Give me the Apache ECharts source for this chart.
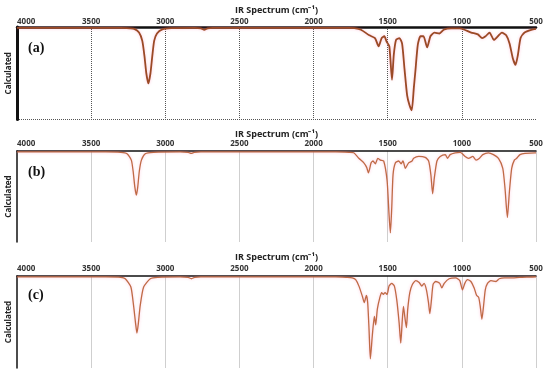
<!DOCTYPE html>
<html><head><meta charset="utf-8">
<script src="https://cdn.jsdelivr.net/npm/echarts/dist/echarts.min.js"></script>
<style>html,body{margin:0;padding:0;background:#fff}#c{width:550px;height:375px}</style>
</head><body><div id="c"></div>
<script>
// Panel (a): wavenumber (cm-1) and relative calculated intensity (0 = baseline, 1 = full depth)
const waveA = [4000,3500,3300,3240,3210,3177,3155,3140,3128,3114,3100,3088,3075,3056,3020,2960,2800,2760,2737,2715,2680,2000,1760,1725,1680,1624,1586,1561,1541,1523,1507,1489,1471,1459,1444,1421,1403,1387,1369,1354,1338,1324,1313,1297,1279,1259,1234,1212,1185,1151,1122,1072,1016,982,937,892,863,840,813,784,757,730,701,678,656,638,622,604,577,532,500];
const absA  = [0.01,0.01,0.01,0.015,0.02,0.06,0.15,0.32,0.50,0.61,0.50,0.32,0.15,0.07,0.025,0.012,0.01,0.015,0.03,0.015,0.01,0.01,0.01,0.012,0.03,0.09,0.12,0.21,0.12,0.10,0.16,0.21,0.57,0.30,0.14,0.12,0.18,0.45,0.74,0.84,0.90,0.66,0.47,0.19,0.10,0.10,0.22,0.10,0.06,0.07,0.03,0.015,0.015,0.03,0.06,0.08,0.12,0.10,0.06,0.14,0.10,0.06,0.09,0.18,0.34,0.41,0.30,0.12,0.06,0.03,0.02];
// Panel (b)
const waveB = [4000,3400,3300,3258,3229,3217,3205,3195,3186,3175,3161,3135,3080,2900,2845,2825,2805,2760,1850,1760,1729,1695,1661,1642,1630,1612,1599,1583,1567,1549,1527,1504,1491,1482,1473,1464,1448,1426,1410,1397,1381,1359,1336,1325,1291,1247,1224,1209,1197,1186,1168,1146,1112,1096,1079,1045,1011,978,955,926,904,881,859,821,787,753,724,709,693,679,664,646,630,608,574,507,500];
const absB  = [0.01,0.01,0.015,0.03,0.10,0.22,0.40,0.485,0.40,0.22,0.10,0.03,0.015,0.01,0.015,0.025,0.015,0.01,0.01,0.015,0.02,0.08,0.13,0.18,0.24,0.13,0.11,0.14,0.08,0.10,0.11,0.33,0.70,0.90,0.63,0.26,0.13,0.11,0.14,0.11,0.19,0.13,0.11,0.08,0.06,0.07,0.11,0.26,0.47,0.30,0.11,0.06,0.04,0.08,0.04,0.02,0.015,0.06,0.08,0.06,0.10,0.08,0.04,0.02,0.04,0.08,0.19,0.41,0.73,0.44,0.19,0.10,0.08,0.04,0.025,0.02,0.02];
// Panel (c)
const waveC = [4000,3400,3300,3270,3232,3214,3200,3191,3182,3169,3146,3101,3050,2900,2845,2824,2803,2760,1850,1780,1739,1716,1694,1671,1658,1644,1635,1626,1617,1604,1590,1581,1570,1554,1541,1529,1518,1504,1491,1473,1455,1439,1423,1412,1403,1394,1385,1374,1365,1351,1333,1311,1288,1270,1255,1239,1225,1216,1205,1194,1176,1149,1135,1119,1086,1041,1014,996,980,962,939,917,901,887,876,865,854,842,827,804,770,748,714,658,613,545,500];
const absC  = [0.01,0.01,0.015,0.03,0.12,0.32,0.52,0.62,0.52,0.32,0.12,0.03,0.015,0.01,0.015,0.03,0.015,0.01,0.01,0.015,0.02,0.04,0.11,0.22,0.29,0.21,0.29,0.58,0.90,0.65,0.44,0.53,0.36,0.24,0.18,0.20,0.18,0.20,0.11,0.08,0.11,0.26,0.51,0.73,0.51,0.33,0.44,0.56,0.36,0.18,0.09,0.05,0.07,0.11,0.08,0.15,0.29,0.41,0.26,0.09,0.06,0.08,0.13,0.08,0.03,0.02,0.05,0.15,0.08,0.04,0.06,0.13,0.21,0.23,0.33,0.47,0.33,0.15,0.08,0.05,0.06,0.03,0.02,0.02,0.015,0.012,0.01];
const panelLabels = ['(a)','(b)','(c)'];
const xTitle = 'IR Spectrum (cm\u207B\u00B9)';
const yTitle = 'Calculated';

const waves = [waveA, waveB, waveC];
const abss = [absA, absB, absC];
const gridTops = [27, 151, 276];
const gridHeights = [92.5, 91, 92];
const nameGaps = [12.5, 11, 14];
const labelMargins = [1.5, 3, 3];
const labelTops = [41, 165, 288];

const chart = echarts.init(document.getElementById('c'), null, {renderer: 'canvas'});
const grids = [], xAxes = [], yAxes = [], series = [], graphics = [];
for (let i = 0; i < 3; i++) {
  grids.push({left: 17, right: 14, top: gridTops[i], height: gridHeights[i], containLabel: false, outerBoundsMode: 'none'});
  const dotted = i === 0;
  xAxes.push({
    gridIndex: i, type: 'value', min: 500, max: 4000, interval: 500, inverse: true, position: 'top',
    name: xTitle, nameLocation: 'middle', nameGap: nameGaps[i],
    nameTextStyle: {fontWeight: 'bold', fontSize: 9, color: '#222', fontFamily: 'Open Sans'},
    axisLine: {show: true, lineStyle: {color: '#111', width: dotted ? 2.5 : 1.5}},
    axisTick: {show: false},
    axisLabel: {fontSize: 8, fontWeight: 'bold', color: '#333', margin: labelMargins[i], fontFamily: 'Open Sans',
      alignMaxLabel: 'left', formatter: v => String(v)},
    splitLine: {show: true, showMinLine: !dotted, showMaxLine: false,
      lineStyle: dotted ? {type: 'dotted', color: '#555', width: 1} : {color: '#cfcfcf', width: 1}}
  });
  yAxes.push({
    gridIndex: i, type: 'value', min: 0, max: 1, interval: 1, inverse: true,
    name: yTitle, nameLocation: 'middle', nameGap: 4,
    nameTextStyle: {fontWeight: 'bold', fontSize: 8, color: '#222', fontFamily: 'Open Sans'},
    axisLine: {show: true, lineStyle: {color: '#111', width: dotted ? 3 : 1.5}},
    axisTick: {show: false}, axisLabel: {show: false},
    splitLine: {show: dotted, lineStyle: {type: 'dotted', color: '#555', width: 1}}
  });
  series.push({
    type: 'line', xAxisIndex: i, yAxisIndex: i, showSymbol: false, smooth: 0.2,
    data: waves[i].map((w, k) => [w, abss[i][k]]),
    lineStyle: {color: dotted ? '#9b4a26' : '#bf6a45', width: dotted ? 1.8 : 1.3,
      shadowColor: 'rgba(255,90,150,0.35)', shadowBlur: 3},
    z: 3
  });
  graphics.push({type: 'text', left: 28, top: labelTops[i],
    style: {text: panelLabels[i], font: 'bold 14px "Liberation Serif"', fill: '#111'}});
}
chart.setOption({
  animation: false,
  grid: grids, xAxis: xAxes, yAxis: yAxes, series: series, graphic: graphics
});
</script></body></html>
